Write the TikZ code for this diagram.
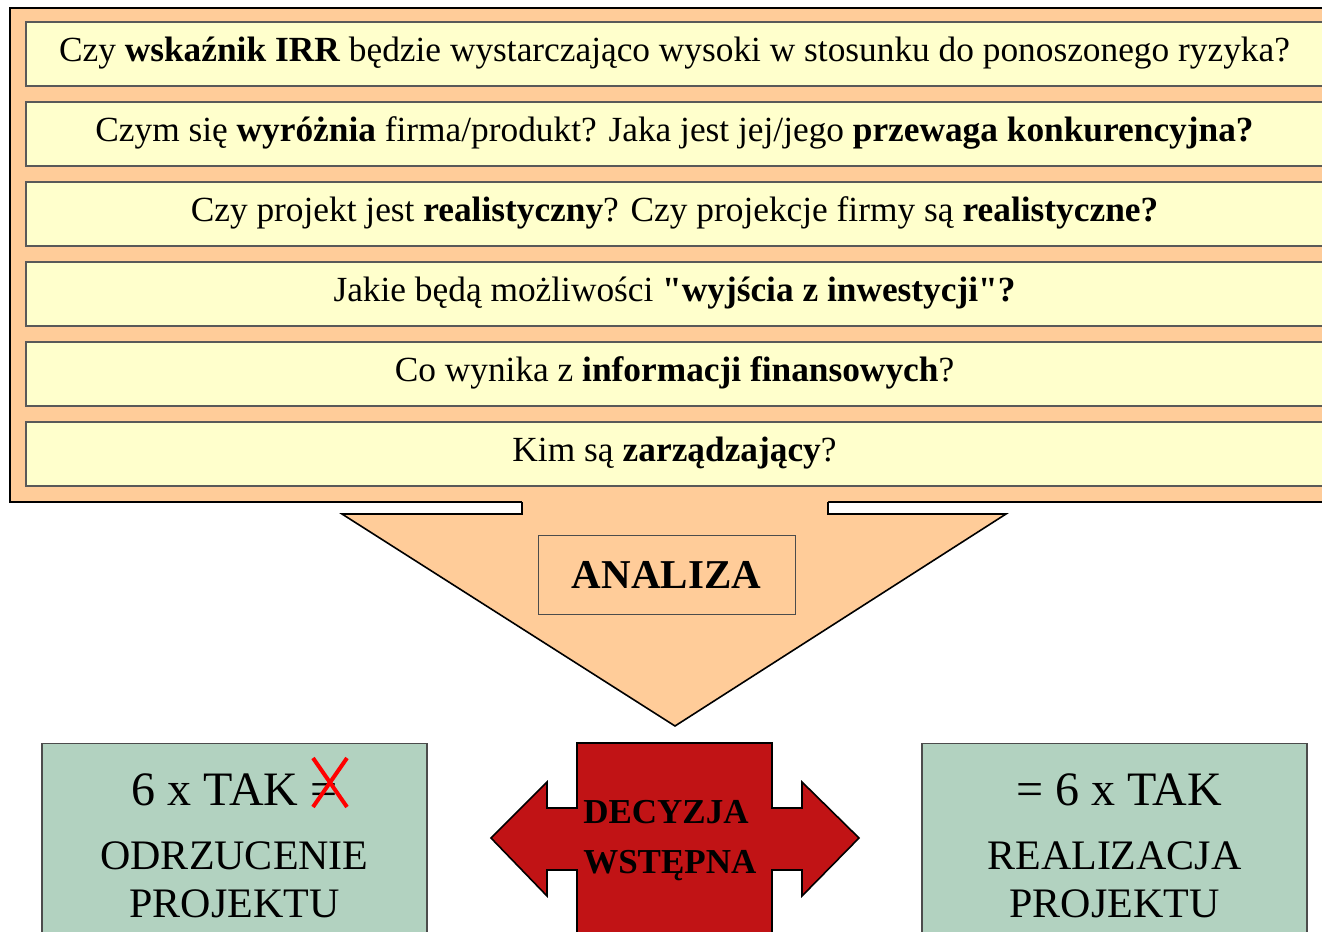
\documentclass[tikz,border=0pt]{standalone}
\usepackage{fontspec}
\setmainfont{Liberation Serif}[Ligatures=TeXOff]
\usepackage{tikz}
\definecolor{boxorange}{HTML}{FFCC99}
\definecolor{boxyellow}{HTML}{FFFFCC}
\definecolor{boxgreen}{RGB}{178,210,192}
\definecolor{decred}{RGB}{193,19,21}
\tikzstyle{question} = [rectangle, minimum width=972.75pt, minimum height=48pt, text height=18.5pt, text depth=6.6pt, text centered, draw=black!65, line width=1pt, fill=boxyellow, font=\fontsize{26.5}{30}\selectfont]
\tikzstyle{analysis} = [rectangle, minimum width=192.75pt, minimum height=59.25pt, draw=black!70, fill=boxorange, font=\fontsize{30.75}{34}\selectfont\bfseries]
\tikzstyle{result} = [rectangle, minimum width=288.75pt, minimum height=160pt, anchor=north, draw=black!70, line width=1pt, fill=boxgreen]
\tikzstyle{headline} = [anchor=base, inner sep=0pt, font=\fontsize{36}{40}\selectfont]
\tikzstyle{outcome} = [anchor=north, align=center, inner sep=0pt, font=\fontsize{31.5}{36}\selectfont]
\tikzstyle{decision} = [anchor=north west, align=left, inner sep=0pt, font=\fontsize{26.25}{37.5}\selectfont\bfseries]

\begin{document}
\begin{tikzpicture}[x=0.75pt, y=-0.75pt, node distance=60pt]
    \useasboundingbox (0,0) rectangle (1322,932);
    \clip (0,0) rectangle (1322,932);
    \draw [fill=boxorange, line width=1.5pt] (10,8) rectangle (1340,502);
    \node (irr) [question] at (674.5,54) {Czy \textbf{wskaźnik IRR} będzie wystarczająco wysoki w stosunku do ponoszonego ryzyka?};
    \node (advantage) [question, below of=irr] {Czym się \textbf{wyróżnia} firma/produkt? Jaka jest jej/jego \textbf{przewaga konkurencyjna?}};
    \node (realism) [question, below of=advantage] {Czy projekt jest \textbf{realistyczny}? Czy projekcje firmy są \textbf{realistyczne?}};
    \node (exit) [question, below of=realism] {Jakie będą możliwości \textbf{"wyjścia z inwestycji"?}};
    \node (finance) [question, below of=exit] {Co wynika z \textbf{informacji finansowych}?};
    \node (management) [question, below of=finance] {Kim są \textbf{zarządzający}?};
    \fill [boxorange] (522,495) -- (522,514) -- (342,514) -- (675,726) -- (1006,514) -- (828,514) -- (828,495) -- cycle;
    \draw [line width=1.2pt] (522,502) -- (522,514) -- (342,514) -- (675,726) -- (1006,514) -- (828,514) -- (828,502);
    \node (analiza) [analysis] at (666.5,574.5) {ANALIZA};
    \node (reject) [result] at (234.5,743) {};
    \node (accept) [result] at (1114.5,743) {};
    \filldraw [fill=decred, line width=1.2pt] (577,945) -- (577,870) -- (547,870) -- (547,896) -- (491,838) -- (547,782) -- (547,808) -- (577,808) -- (577,743) -- (772,743) -- (772,808) -- (802,808) -- (802,782) -- (859,838) -- (802,896) -- (802,870) -- (772,870) -- (772,945);
    \node (rejecthead) [headline] at (234.5,805) {6 x TAK =};
    \draw [red, line width=3pt] (313,758) -- (347,807) (347,758) -- (313,807);
    \node (rejecttext) [outcome] at (234.5,841) {ODRZUCENIE\\PROJEKTU};
    \node (accepthead) [headline] at (1119,805) {= 6 x TAK};
    \node (accepttext) [outcome] at (1114.5,841) {REALIZACJA\\PROJEKTU};
    \node (decision) [decision] at (583,800) {DECYZJA\\WSTĘPNA};
\end{tikzpicture}
\end{document}
